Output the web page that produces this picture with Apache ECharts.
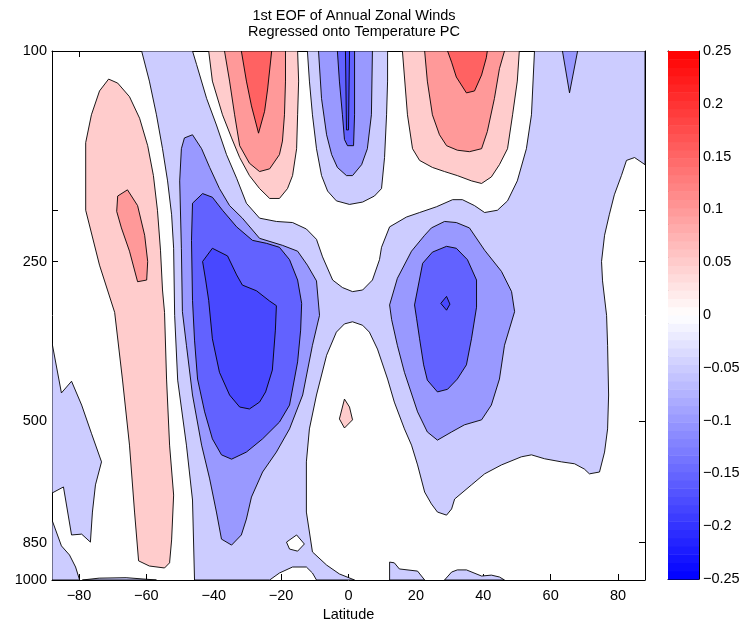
<!DOCTYPE html>
<html><head><meta charset="utf-8">
<script src="https://cdn.jsdelivr.net/npm/echarts@6/dist/echarts.min.js"></script>
<style>html,body{margin:0;padding:0;background:#fff}#c{width:751px;height:621px}</style>
</head><body><div id="c"></div>
<script>
// ---- axes / ticks ----
const latTicks = [-80, -60, -40, -20, 0, 20, 40, 60, 80];
const pTicks = [100, 200, 250, 500, 850, 1000];
const pLabels = [100, 250, 500, 850, 1000];
const latRange = [-88, 88];
const pRange = [100, 1000];
const cbarRange = [-0.25, 0.25];
const cbarStep = 0.05;
const nColors = 64;

// ---- contour regions: [latitude, pressure] ----
const lbMain = [[-61.4,100],[-46.3,100],[-45.1,106],[-42.1,123],[-39.2,138],[-36.2,157],[-33.2,174],[-30.3,194],[-26.4,207],[-21.4,210],[-16.6,211],[-12.5,217],[-9.5,227],[-7.7,245],[-4.7,271],[-1.8,280],[1.2,285],[4.2,283],[7.1,271],[9.2,248],[9.8,235],[12.2,215],[17.2,206],[21.1,202],[26.1,197],[30.9,191],[33.8,191],[37.4,196],[40.4,202],[44.2,200],[47.2,192],[50.1,176],[52.8,153],[54.3,132],[55.2,100],[88,100],[88,164],[84.9,159],[82.5,161],[81.0,172],[78.9,187],[77.4,204],[76.0,223],[75.1,250],[75.4,272],[76.6,316],[76.9,360],[77.2,447],[76.9,518],[76.0,573],[74.5,625],[71.5,630],[70.0,617],[67.1,603],[63.2,598],[58.2,590],[54.3,580],[51.3,585],[45.4,606],[40.4,630],[36.5,661],[31.5,703],[30.6,734],[29.1,754],[26.4,744],[24.6,718],[22.6,682],[20.5,606],[18.7,556],[16.6,518],[13.6,461],[11.6,417],[8.6,366],[6.2,340],[4.2,330],[1.2,325],[-1.2,328],[-3.6,340],[-6.5,376],[-9.5,447],[-11.6,518],[-12.5,598],[-12.5,744],[-10.7,885],[-6.5,937],[-2.7,974],[1.8,1000],[-9.5,1000],[-10.7,970],[-12.5,945],[-16.6,945],[-20.5,970],[-23.4,1000],[-45.7,1000],[-46.3,706],[-48.1,556],[-50.7,419],[-51.6,316],[-51.9,236],[-52.5,204],[-53.7,176],[-55.2,153],[-57.0,132],[-59.1,114]];
const lbEdgeW = [[-88,356],[-85.2,443],[-82.2,421],[-79.2,467],[-76.3,528],[-73.3,598],[-75.1,661],[-76.0,744],[-76.6,848],[-79.2,819],[-82.2,822],[-84.6,667],[-88,685]];
const lbCornerSW = [[-88,770],[-85.2,862],[-82.8,897],[-81.0,945],[-79.8,1000],[-88,1000]];
const lbSliverS = [[-79,1000],[-74,992],[-66,990],[-57,1000]];
const lbBumpA = [[12.2,1000],[12.2,925],[13.6,928],[15.1,953],[20.5,962],[22.6,1000]];
const lbBumpB = [[28.5,1000],[30.6,966],[32.3,957],[35.0,957],[39.5,983],[42.4,979],[44.8,987],[46.3,1000]];
const whiteHole = [[-18.4,848],[-15.4,822],[-13.1,855],[-15.1,882],[-17.5,874]];
const mbSouth = [[-48.7,146],[-46.3,144],[-43.6,153],[-41.2,166],[-38.3,182],[-35.3,196],[-31.5,207],[-26.4,226],[-19.6,233],[-15.1,239],[-12.2,254],[-9.5,272],[-8.6,316],[-10.7,360],[-13.6,447],[-17.5,518],[-21.4,573],[-25.5,625],[-28.8,697],[-30.3,767],[-31.8,822],[-34.7,859],[-37.7,837],[-39.2,744],[-41.2,644],[-43.6,556],[-46.3,447],[-48.1,360],[-49.3,311],[-49.6,236],[-50.1,176],[-49.6,153]];
const dbSouth = [[-46.3,194],[-43.3,186],[-40.4,189],[-37.4,200],[-33.2,215],[-28.5,228],[-24.3,231],[-20.5,235],[-17.5,248],[-15.1,271],[-13.9,300],[-14.2,337],[-15.1,387],[-17.5,467],[-20.5,503],[-25.5,541],[-30.3,573],[-34.7,591],[-37.7,580],[-40.4,541],[-42.7,481],[-44.8,417],[-45.7,352],[-46.3,296],[-46.6,228]];
const ddbSouth = [[-43.3,250],[-40.4,236],[-35.9,244],[-33.2,265],[-31.5,277],[-27.3,284],[-23.4,297],[-21.4,303],[-21.7,337],[-22.6,401],[-24.6,441],[-26.4,461],[-29.4,475],[-32.3,471],[-35.3,447],[-38.3,405],[-40.4,350],[-41.5,296],[-42.4,271]];
const mbNorth = [[12.2,302],[14.5,269],[18.7,239],[22.6,223],[24.6,216],[28.5,210],[32.0,211],[35.9,216],[40.4,238],[45.4,261],[48.4,285],[49.3,311],[46.3,360],[44.8,417],[42.4,467],[39.5,498],[34.4,509],[30.6,525],[26.4,544],[23.4,525],[20.5,481],[16.6,405],[14.5,360],[12.8,322]];
const dbNorth = [[19.6,302],[22.0,252],[24.9,240],[29.1,234],[32.0,236],[35.3,248],[38.0,271],[38.0,305],[36.5,350],[35.0,392],[32.3,417],[29.4,436],[26.4,441],[23.4,419],[22.3,392],[21.1,350],[20.2,320]];
const ddbNorth = [[27.4,300],[29.1,291],[30.1,301],[29.1,309]];
const mbTri = [[63.5,100],[65.6,120],[68.0,100]];
const lbEq = [[-12.2,100],[-11.6,114],[-10.7,132],[-9.5,153],[-8.0,172],[-6.2,184],[-3.6,192],[0.3,195],[4.2,193],[7.7,188],[9.8,182],[10.7,159],[11.3,132],[11.6,114],[11.6,100]];
const mbEq = [[-8.9,100],[-8.0,123],[-6.5,144],[-5.0,157],[-3.3,166],[-0.6,172],[1.2,172],[3.9,164],[5.6,153],[6.8,132],[7.1,100]];
const dbEq = [[-3.3,100],[-2.7,114],[-1.8,132],[-1.2,147],[-0.3,151],[1.5,151],[1.8,132],[1.8,100]];
const ddbEq = [[-0.9,100],[-0.6,141],[0,141],[0.3,100]];
const lpSouth = [[-71.2,113],[-68.5,115],[-65.0,122],[-62.0,134],[-59.6,151],[-57.9,172],[-56.7,200],[-55.8,238],[-55.2,283],[-54.6,312],[-54.0,417],[-53.1,556],[-51.9,691],[-52.5,840],[-53.1,928],[-54.6,949],[-59.1,941],[-62.3,920],[-63.5,744],[-65.0,556],[-67.1,417],[-69.4,312],[-73.9,254],[-78.0,200],[-78.0,149],[-76.3,132],[-73.9,119]];
const pSouth = [[-65.6,183],[-62.6,196],[-60.5,223],[-59.6,250],[-59.9,271],[-62.6,273],[-65.0,239],[-67.4,216],[-68.8,201],[-68.5,188]];
const lpUpperW = [[-41.5,100],[-40.4,114],[-37.4,132],[-34.7,146],[-32.3,159],[-29.4,172],[-26.4,182],[-23.4,190],[-20.5,190],[-18.1,182],[-16.6,172],[-15.4,153],[-15.1,132],[-14.8,114],[-15.1,100]];
const pUpperW = [[-36.8,100],[-35.3,114],[-33.8,132],[-32.3,151],[-29.4,163],[-26.4,169],[-23.4,167],[-20.5,157],[-19.6,148],[-19.0,132],[-18.7,114],[-18.7,100]];
const rUpperW = [[-31.8,100],[-30.3,114],[-28.8,127],[-26.7,143],[-24.9,130],[-24.0,118],[-22.8,100]];
const lpUpperE = [[16.0,100],[17.5,132],[19.0,153],[21.1,161],[24.9,166],[28.5,169],[32.3,172],[36.5,176],[39.5,178],[42.4,173],[44.8,164],[47.2,153],[48.7,132],[50.1,114],[50.7,100]];
const pUpperE = [[22.6,100],[23.4,114],[24.9,132],[27.0,144],[29.1,151],[32.3,154],[35.9,155],[39.5,153],[41.2,142],[43.3,123],[44.8,108],[46.3,100]];
const rUpperE = [[29.4,100],[30.6,105],[32.0,112],[35.0,120],[37.4,119],[39.5,111],[40.9,103],[41.2,100]];
const lpDiamond = [[-1.2,455],[0.3,471],[1.2,498],[-1.2,516],[-2.7,496]];

// ---- styles ----
const FILL = {lb:'#ccccff', mb:'#9999ff', db:'#6262ff', ddb:'#4848ff', lp:'#ffcccc', p:'#ff9999', r:'#ff6262', w:'#ffffff'};
const layers = [
  ['lb', lbMain], ['lb', lbEdgeW], ['lb', lbCornerSW], ['lb', lbSliverS], ['lb', lbBumpA], ['lb', lbBumpB],
  ['w', whiteHole],
  ['mb', mbSouth], ['db', dbSouth], ['ddb', ddbSouth],
  ['mb', mbNorth], ['db', dbNorth], ['ddb', ddbNorth], ['mb', mbTri],
  ['lb', lbEq], ['mb', mbEq], ['db', dbEq], ['ddb', ddbEq],
  ['lp', lpSouth], ['p', pSouth],
  ['lp', lpUpperW], ['p', pUpperW], ['r', rUpperW],
  ['lp', lpUpperE], ['p', pUpperE], ['r', rUpperE],
  ['lp', lpDiamond]
];

// colour bar bands
const cbBands = [];
for (let i = 0; i < nColors; i++) {
  const lo = cbarRange[0] + (cbarRange[1] - cbarRange[0]) * i / nColors;
  const hi = cbarRange[0] + (cbarRange[1] - cbarRange[0]) * (i + 1) / nColors;
  cbBands.push([lo, hi]);
}
function bwr(v) {
  const m = (v - cbarRange[0]) / (cbarRange[1] - cbarRange[0]); // 0..1
  let r, g, b;
  if (m < 0.5) { const s = m * 2; r = g = Math.round(255 * s); b = 255; }
  else { const s = (1 - m) * 2; r = 255; g = b = Math.round(255 * s); }
  return 'rgb(' + r + ',' + g + ',' + b + ')';
}
const minus = s => String(s).replace('-', '\u2212');
const FONT = 'Liberation Sans, Arial, Helvetica, sans-serif';
const FS = 14.5;
const blackLine = {show: true, onZero: false, lineStyle: {color: '#000', width: 1}};
const tickIn = (vals) => ({show: true, inside: true, length: 6, customValues: vals, lineStyle: {color: '#000', width: 1}});

const chart = echarts.init(document.getElementById('c'), null, {renderer: 'canvas'});
chart.setOption({
  animation: false,
  backgroundColor: '#fff',
  title: {
    text: '1st EOF of Annual Zonal Winds\nRegressed onto Temperature PC',
    left: 349, top: 3, textAlign: 'center',
    textStyle: {fontFamily: FONT, fontSize: FS, fontWeight: 'normal', color: '#000', lineHeight: 16}
  },
  grid: [
    {left: 52, top: 51, width: 593, height: 529, show: false, containLabel: false, outerBoundsMode: 'none'},
    {left: 668, top: 51, width: 31, height: 528, show: false, containLabel: false, outerBoundsMode: 'none'}
  ],
  xAxis: [
    {gridIndex: 0, type: 'value', min: latRange[0], max: latRange[1], position: 'bottom',
     axisLine: blackLine, axisTick: tickIn(latTicks), splitLine: {show: false},
     axisLabel: {customValues: latTicks, formatter: v => minus(v), color: '#000', fontFamily: FONT, fontSize: FS, margin: 8},
     name: 'Latitude', nameLocation: 'middle', nameGap: 27,
     nameTextStyle: {color: '#000', fontFamily: FONT, fontSize: FS}},
    {gridIndex: 0, type: 'value', min: latRange[0], max: latRange[1], position: 'top',
     axisLine: blackLine, axisTick: tickIn(latTicks), axisLabel: {show: false}, splitLine: {show: false}},
    {gridIndex: 1, type: 'value', min: 0, max: 1, position: 'bottom',
     axisLine: blackLine, axisTick: {show: false}, axisLabel: {show: false}, splitLine: {show: false}},
    {gridIndex: 1, type: 'value', min: 0, max: 1, position: 'top',
     axisLine: blackLine, axisTick: {show: false}, axisLabel: {show: false}, splitLine: {show: false}}
  ],
  yAxis: [
    {gridIndex: 0, type: 'log', logBase: 10, min: pRange[0], max: pRange[1], inverse: true, position: 'left',
     axisLine: blackLine, axisTick: tickIn(pTicks), splitLine: {show: false}, minorTick: {show: false},
     axisLabel: {customValues: pLabels, formatter: v => String(Math.round(v)), color: '#000', fontFamily: FONT, fontSize: FS, margin: 5}},
    {gridIndex: 0, type: 'log', logBase: 10, min: pRange[0], max: pRange[1], inverse: true, position: 'right',
     axisLine: blackLine, axisTick: tickIn(pTicks), axisLabel: {show: false}, splitLine: {show: false}},
    {gridIndex: 1, type: 'value', min: cbarRange[0], max: cbarRange[1], interval: cbarStep, position: 'right',
     axisLine: blackLine, axisTick: {show: true, inside: true, length: 5, lineStyle: {color: '#000'}}, splitLine: {show: false},
     axisLabel: {formatter: v => minus(Math.round(v * 100) / 100), color: '#000', fontFamily: FONT, fontSize: FS, margin: 4}},
    {gridIndex: 1, type: 'value', min: cbarRange[0], max: cbarRange[1], interval: cbarStep, position: 'left',
     axisLine: blackLine, axisTick: {show: true, inside: true, length: 5, lineStyle: {color: '#000'}}, splitLine: {show: false},
     axisLabel: {show: false}}
  ],
  series: [
    {
      type: 'custom', xAxisIndex: 0, yAxisIndex: 0, clip: true, silent: true, z: 1,
      data: layers.map((l, i) => [l[1][0][0], l[1][0][1], i]),
      renderItem: (params, api) => {
        const L = layers[params.dataIndex];
        return {
          type: 'polygon',
          shape: {points: L[1].map(p => api.coord(p))},
          style: {fill: FILL[L[0]], stroke: '#000', lineWidth: 0.9}
        };
      }
    },
    {
      type: 'custom', xAxisIndex: 2, yAxisIndex: 2, silent: true, z: 1,
      data: cbBands.map(b => [0, b[0], b[1]]),
      renderItem: (params, api) => {
        const lo = api.value(1), hi = api.value(2);
        const p0 = api.coord([0, lo]);
        const p1 = api.coord([1, hi]);
        return {
          type: 'rect',
          shape: {x: p0[0], y: p1[1], width: p1[0] - p0[0], height: p0[1] - p1[1] + 0.5},
          style: {fill: bwr((lo + hi) / 2)}
        };
      }
    }
  ]
});
</script>
</body></html>
